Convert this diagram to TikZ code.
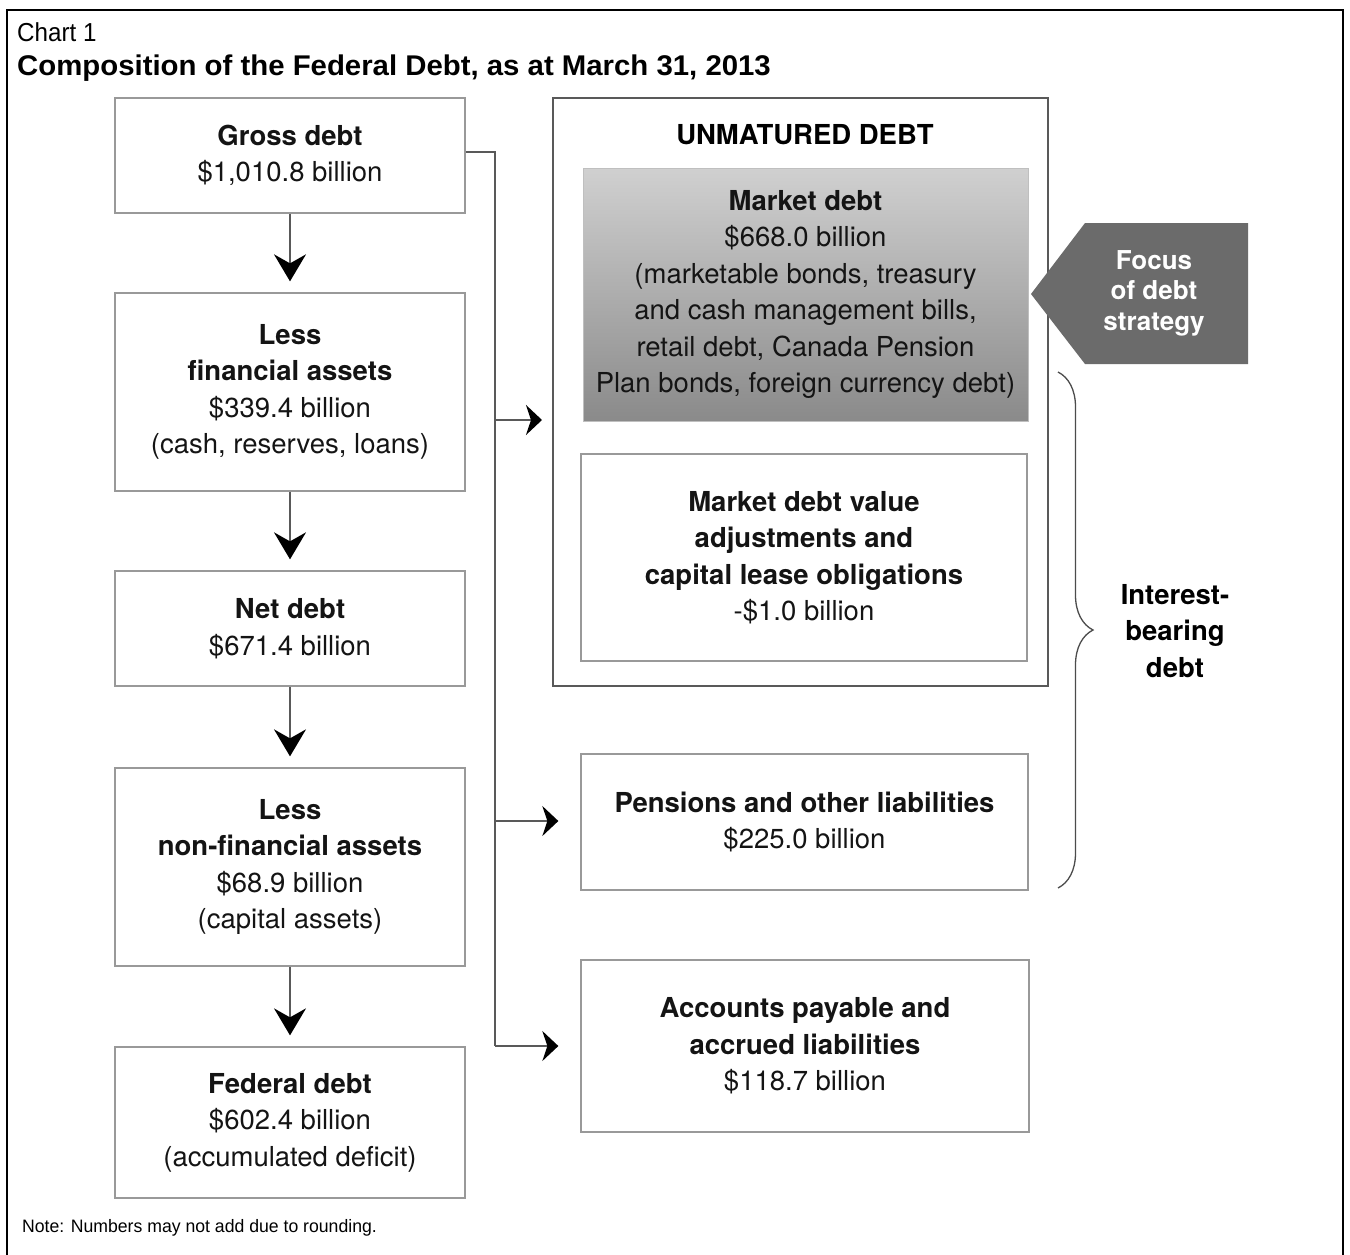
\documentclass[tikz,border=0pt]{standalone}
\usepackage{fontspec}
\setmainfont{TeX Gyre Heros}
\newfontfamily\arialfont{Liberation Sans}
\usetikzlibrary{arrows.meta,decorations.pathreplacing}
\definecolor{focusgray}{HTML}{6B6B6B}
\definecolor{gradtop}{HTML}{D0D0D0}
\definecolor{gradbot}{HTML}{8A8A8A}
\begin{document}
\begin{tikzpicture}[x=1pt,y=-1pt,
  box/.style={draw=black!40, line width=1.3pt, align=center, inner sep=0pt, text=black!92,
    font=\fontsize{27.5}{36.5}\selectfont},
  bigbox/.style={draw=black!65, line width=2pt, inner sep=0pt},
  conn/.style={draw=black!65, line width=1.6pt},
  varrow/.style={draw=black!65, line width=1.6pt, -{Stealth[length=27pt,width=32pt,inset=9pt,color=black]}},
  harrow/.style={draw=black!65, line width=1.6pt, -{Stealth[length=16pt,width=30pt,inset=5pt,color=black]}},
  boldlbl/.style={align=center, inner sep=0pt, font=\bfseries\fontsize{27.5}{36.5}\selectfont},
]
\useasboundingbox (0,0) rectangle (1350,1254);
\fill[white] (0,0) rectangle (1350,1254);
\draw[line width=2.5pt] (7,10) rectangle (1343,1262);

% titles
\node[anchor=west, inner sep=0pt, font=\arialfont\fontsize{26}{26}\selectfont] (chart) at (17,32) {\scalebox{0.93}[1]{Chart 1}};
\node[anchor=west, inner sep=0pt, font=\arialfont\bfseries\fontsize{28.5}{28.5}\selectfont] (title) at (17,68) {\scalebox{1.03}[1]{Composition of the Federal Debt, as at March 31, 2013}};
\node[anchor=west, inner sep=0pt, font=\arialfont\fontsize{18}{18}\selectfont] (note) at (22,1228) {\scalebox{0.98}[1]{Note: Numbers may not add due to rounding.}};

% left column
\node[box, minimum width=350pt, minimum height=115pt] (gross) at (290,155.5) {\textbf{Gross debt}\\\$1,010.8 billion};
\node[box, minimum width=350pt, minimum height=198pt] (lessfin) at (290,392) {\textbf{Less}\\\textbf{financial assets}\\\$339.4 billion\\(cash, reserves, loans)};
\node[box, minimum width=350pt, minimum height=115pt] (net) at (290,628.5) {\textbf{Net debt}\\\$671.4 billion};
\node[box, minimum width=350pt, minimum height=198pt] (lessnon) at (290,867) {\textbf{Less}\\\textbf{non-financial assets}\\\$68.9 billion\\(capital assets)};
\node[box, minimum width=350pt, minimum height=151pt] (fed) at (290,1122.5) {\textbf{Federal debt}\\\$602.4 billion\\(accumulated deficit)};

\draw[varrow] (gross.south) -- ([yshift=11pt]lessfin.north);
\draw[varrow] (lessfin.south) -- ([yshift=11pt]net.north);
\draw[varrow] (net.south) -- ([yshift=11pt]lessnon.north);
\draw[varrow] (lessnon.south) -- ([yshift=11pt]fed.north);

% right column
\node[bigbox, minimum width=495pt, minimum height=588pt] (unmat) at (800.5,392) {};
\node[boldlbl] (unmatlbl) at (805,135) {UNMATURED DEBT};
\node[box, draw=black!25, line width=1pt, top color=gradtop, bottom color=gradbot, minimum width=445pt, minimum height=253pt] (market) at (805.5,294.5)
  {\textbf{Market debt}\\\$668.0 billion\\(marketable bonds, treasury\\and cash management bills,\\retail debt, Canada Pension\\Plan bonds, foreign currency debt)};
\node[box, minimum width=446pt, minimum height=207pt] (adj) at (804,557.5)
  {\textbf{Market debt value}\\\textbf{adjustments and}\\\textbf{capital lease obligations}\\-\$1.0 billion};
\node[box, minimum width=447pt, minimum height=136pt] (pens) at (804.5,822)
  {\textbf{Pensions and other liabilities}\\\$225.0 billion};
\node[box, minimum width=448pt, minimum height=172pt] (acct) at (805,1046)
  {\textbf{Accounts payable and}\\\textbf{accrued liabilities}\\\$118.7 billion};

% bus connector
\coordinate (b0) at (495,152);
\coordinate (b1) at (495,420);
\coordinate (b2) at (495,821);
\coordinate (b3) at (495,1046);
\draw[conn] (gross.east |- b0) -- (b0) -- (b3);
\draw[harrow, shorten >=10pt] (b1) -- (b1 -| unmat.west);
\draw[harrow, shorten >=22pt] (b2) -- (b2 -| pens.west);
\draw[harrow, shorten >=22pt] (b3) -- (b3 -| acct.west);

% focus arrow
\fill[focusgray] (1031,294) -- (1085,223) -- (1248,223) -- (1248,364) -- (1085,364) -- cycle;
\node[align=center, inner sep=0pt, text=white, font=\bfseries\fontsize{26}{30.5}\selectfont] (focus) at (1154,293) {Focus\\of debt\\strategy};

% brace
\coordinate (brtop) at (1058,372);
\coordinate (brbot) at (1058,888);
\draw[black!70, line width=1.3pt, decorate, decoration={brace, amplitude=35pt, aspect=0.5}] (brtop) -- (brbot);
\node[boldlbl] (ibd) at (1175,631) {Interest-\\bearing\\debt};
\end{tikzpicture}
\end{document}
